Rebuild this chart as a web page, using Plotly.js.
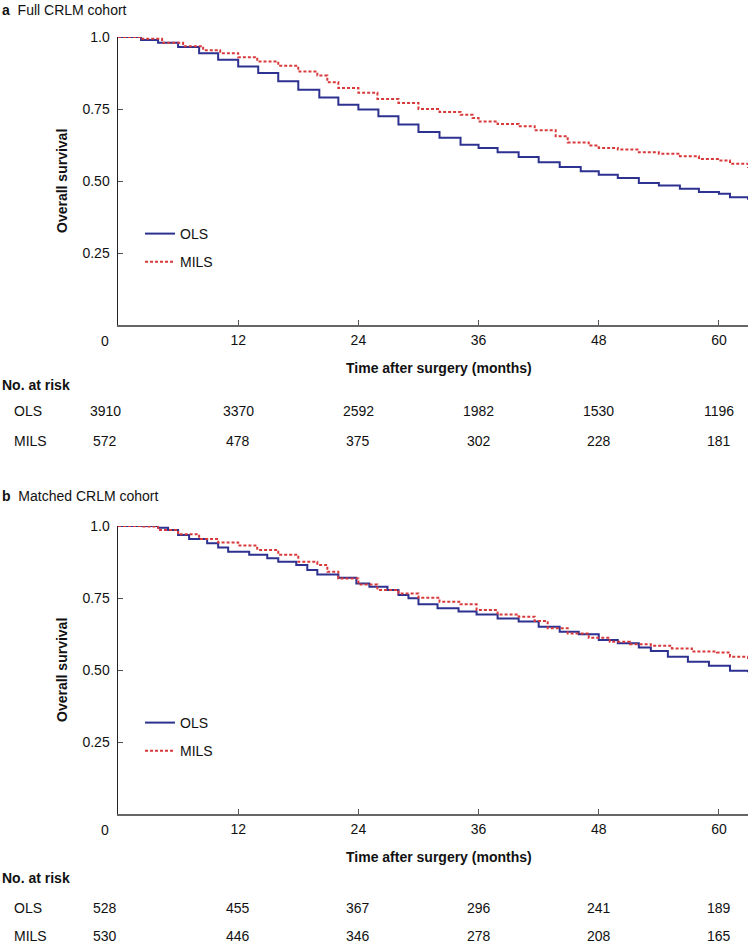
<!DOCTYPE html>
<html>
<head>
<meta charset="utf-8">
<script src="https://cdn.plot.ly/plotly-3.0.1.min.js"></script>
<style>html,body{margin:0;padding:0;background:#fff}#chart{width:750px;height:945px}</style>
</head>
<body>
<div id="chart"></div>
<script>
// ---- Data ----
var seriesNames = ["OLS", "MILS"];
var riskTimes = [0, 12, 24, 36, 48, 60];

// Panel a: Full CRLM cohort
var aOlsT = [0, 2.3, 4, 6, 8.1, 10, 12, 14, 16, 18, 20.1, 22, 24, 26, 28, 30, 32.1, 34.2, 36, 37.9, 40, 42, 44.1, 46.2, 48, 49.9, 52, 54, 56.1, 58, 60, 61.1, 62.9];
var aOlsS = [1.0, 0.99, 0.98, 0.965, 0.944, 0.921, 0.898, 0.875, 0.846, 0.817, 0.79, 0.765, 0.748, 0.725, 0.696, 0.67, 0.65, 0.626, 0.615, 0.60, 0.583, 0.565, 0.549, 0.534, 0.522, 0.51, 0.493, 0.484, 0.473, 0.462, 0.456, 0.444, 0.435];
var aMilsT = [0, 2.3, 4.4, 6.5, 8.5, 10.2, 12, 13.9, 16, 18, 19.9, 20.9, 22, 24, 25.9, 28, 30, 32.1, 34.2, 35.4, 36, 37.9, 40, 41.6, 43.7, 44.9, 47, 48, 49.9, 52, 54, 56.1, 58, 60, 61.1, 62.9];
var aMilsS = [1.0, 0.994, 0.98, 0.968, 0.954, 0.944, 0.93, 0.915, 0.90, 0.88, 0.866, 0.843, 0.823, 0.806, 0.785, 0.771, 0.75, 0.74, 0.73, 0.719, 0.707, 0.698, 0.69, 0.676, 0.655, 0.634, 0.623, 0.615, 0.609, 0.60, 0.595, 0.586, 0.576, 0.571, 0.56, 0.545];
var aRiskOls = [3910, 3370, 2592, 1982, 1530, 1196];
var aRiskMils = [572, 478, 375, 302, 228, 181];

// Panel b: Matched CRLM cohort
var bOlsT = [0, 2.7, 4, 5, 6, 7.1, 8.9, 10, 11, 13.1, 14.9, 16, 17.8, 18.9, 19.9, 22, 23.8, 25.1, 26.9, 28, 29, 30, 31.9, 34, 35.8, 37.9, 40, 42, 44.1, 46, 48, 49.9, 52, 53.2, 54.9, 56.9, 59, 61.1, 62.9];
var bOlsS = [1.0, 1.0, 0.994, 0.986, 0.969, 0.955, 0.94, 0.925, 0.911, 0.90, 0.888, 0.876, 0.865, 0.847, 0.832, 0.82, 0.80, 0.789, 0.778, 0.76, 0.749, 0.728, 0.714, 0.703, 0.693, 0.679, 0.668, 0.65, 0.633, 0.624, 0.604, 0.593, 0.578, 0.566, 0.546, 0.529, 0.515, 0.497, 0.492];
var bMilsT = [0, 2.3, 4, 6, 8.1, 10, 12, 13.9, 16, 18, 19.9, 20.9, 22, 24, 25.9, 28, 30, 32.1, 34.2, 35.8, 37.9, 40, 41.6, 42.9, 44.9, 47, 49.1, 51.1, 53.2, 55.3, 57.3, 59.8, 61.1, 62.9];
var bMilsS = [1.0, 0.998, 0.986, 0.971, 0.955, 0.943, 0.932, 0.917, 0.90, 0.876, 0.865, 0.841, 0.818, 0.797, 0.778, 0.766, 0.751, 0.737, 0.728, 0.708, 0.693, 0.685, 0.67, 0.645, 0.627, 0.612, 0.598, 0.589, 0.584, 0.575, 0.564, 0.561, 0.546, 0.537];
var bRiskOls = [528, 455, 367, 296, 241, 189];
var bRiskMils = [530, 446, 346, 278, 208, 165];

var yTickVals = [0.25, 0.5, 0.75, 1.0];
var yTickText = ["0.25", "0.50", "0.75", "1.0"];
var xTickVals = [12, 24, 36, 48, 60];

// ---- Styles ----
var FONT = "Liberation Sans, Arial, Helvetica, sans-serif";
var BLUE = "#2d3190";
var RED = "#d8393b";
var W = 750, H = 945;
function px(x){ return x / W; }
function py(y){ return 1 - y / H; }

var panels = [
  {key: "", ols: [aOlsT, aOlsS], mils: [aMilsT, aMilsS], risk: [aRiskOls, aRiskMils], top: 37, bottom: 325, legend: "legend", label: "a", title: "Full CRLM cohort", tOff: 27, rows: [60, 86, 116]},
  {key: "2", ols: [bOlsT, bOlsS], mils: [bMilsT, bMilsS], risk: [bRiskOls, bRiskMils], top: 526, bottom: 814, legend: "legend2", label: "b", title: "Matched CRLM cohort", tOff: 30, rows: [64, 94, 122]}
];

var traces = [];
var annotations = [];
var layout = {
  width: W, height: H,
  margin: {l: 0, r: 0, t: 0, b: 0},
  paper_bgcolor: "#fff", plot_bgcolor: "#fff",
  font: {family: FONT, size: 14, color: "#111"},
  showlegend: true
};

panels.forEach(function(p, i){
  var xa = "x" + p.key, ya = "y" + p.key;
  traces.push({x: p.ols[0], y: p.ols[1], name: seriesNames[0], type: "scatter", mode: "lines",
    line: {shape: "hv", color: BLUE, width: 2}, xaxis: xa, yaxis: ya, legend: p.legend, legendgroup: "g1" + i, hoverinfo: "skip"});
  traces.push({x: p.mils[0], y: p.mils[1], name: seriesNames[1], type: "scatter", mode: "lines",
    line: {shape: "hv", color: RED, width: 2, dash: "3px,2px"}, xaxis: xa, yaxis: ya, legend: p.legend, legendgroup: "g2" + i, hoverinfo: "skip"});

  layout["xaxis" + p.key] = {
    domain: [px(118), px(748)], range: [0, 62.9], anchor: ya,
    tickvals: xTickVals, ticks: "inside", ticklen: 5, tickcolor: "#555", tickwidth: 1,
    showline: true, linecolor: "#666", linewidth: 1.5, showgrid: false, zeroline: false,
    tickfont: {size: 14, color: "#111"}, ticklabelstandoff: 2, fixedrange: true
  };
  layout["yaxis" + p.key] = {
    domain: [py(p.bottom), py(p.top)], range: [0, 1.0], anchor: xa,
    tickvals: yTickVals, ticktext: yTickText, ticks: "inside", ticklen: 5, tickcolor: "#555", tickwidth: 1,
    showline: true, linecolor: "#222", linewidth: 1.5, showgrid: false, zeroline: false,
    tickfont: {size: 14, color: "#111"}, ticklabelstandoff: 4, fixedrange: true
  };
  layout[p.legend] = {
    x: px(140), y: py(p.top + 181), xanchor: "left", yanchor: "top",
    bgcolor: "rgba(0,0,0,0)", borderwidth: 0, font: {size: 14, color: "#111"},
    traceorder: "grouped", tracegroupgap: 7
  };

  // "0" origin label
  annotations.push({xref: xa, yref: "paper", x: 0, y: py(p.bottom + 16), text: "0", showarrow: false,
    xshift: -13, xanchor: "center", yanchor: "middle", font: {size: 14}});
  // panel title
  annotations.push({xref: "paper", yref: "paper", x: 0, y: py(p.top - p.tOff), text: "<b>" + p.label + "</b>  " + p.title,
    showarrow: false, xanchor: "left", yanchor: "middle", font: {size: 14}});
  // y title
  annotations.push({xref: "paper", yref: "paper", x: px(62), y: py((p.top + p.bottom) / 2), text: "<b>Overall survival</b>",
    textangle: -90, showarrow: false, xanchor: "center", yanchor: "middle", font: {size: 14}});
  // x title
  annotations.push({xref: "paper", yref: "paper", x: px(439), y: py(p.bottom + 43), text: "<b>Time after surgery (months)</b>",
    showarrow: false, xanchor: "center", yanchor: "middle", font: {size: 14}});
  // risk table
  annotations.push({xref: "paper", yref: "paper", x: 0, y: py(p.bottom + p.rows[0]), text: "<b>No. at risk</b>",
    showarrow: false, xanchor: "left", yanchor: "middle", font: {size: 14}});
  var rowY = [p.bottom + p.rows[1], p.bottom + p.rows[2]];
  seriesNames.forEach(function(nm, r){
    annotations.push({xref: "paper", yref: "paper", x: px(12), y: py(rowY[r]), text: nm,
      showarrow: false, xanchor: "left", yanchor: "middle", font: {size: 14}});
    riskTimes.forEach(function(t, k){
      annotations.push({xref: xa, yref: "paper", x: t, y: py(rowY[r]), text: String(p.risk[r][k]),
        showarrow: false, xanchor: "center", yanchor: "middle", xshift: t === 0 ? -13 : 0, font: {size: 14}});
    });
  });
});

layout.annotations = annotations;
Plotly.newPlot("chart", traces, layout, {displayModeBar: false, staticPlot: true});
</script>
</body>
</html>
